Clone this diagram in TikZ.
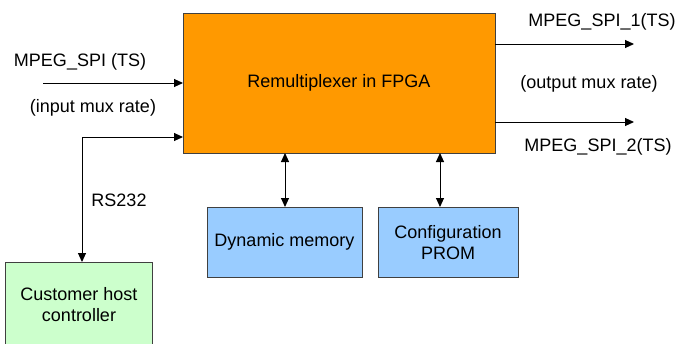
\documentclass[tikz,border=0pt]{standalone}
\usepackage{fontspec}
\setmainfont{Liberation Sans}
\usetikzlibrary{arrows.meta}
\definecolor{fpga}{HTML}{FF9900}
\definecolor{mem}{HTML}{99CCFF}
\definecolor{host}{HTML}{CCFFCC}
\definecolor{edge}{HTML}{404040}
\begin{document}
\begin{tikzpicture}[x=1pt,y=-1pt,
  box/.style={draw=edge,line width=1pt},
  lbl/.style={inner sep=0pt,font=\fontsize{18}{21}\selectfont,align=center},
  conn/.style={line width=1pt,-{Triangle[length=9pt,width=8pt]}},
  dconn/.style={line width=1pt,{Triangle[length=9pt,width=8pt]}-{Triangle[length=9pt,width=8pt]}}]
\useasboundingbox (0,0) rectangle (677,343);
\filldraw[box,fill=fpga] (183,13) rectangle (495,153);
\filldraw[box,fill=mem] (207,207) rectangle (362,277);
\filldraw[box,fill=mem] (378,207) rectangle (518,277);
\filldraw[box,fill=host] (5,262) rectangle (152,350);
\node[lbl] (fpgat) at (339,83) {Remultiplexer in FPGA};
\node[lbl] (memt) at (284.5,242) {Dynamic memory};
\node[lbl] (promt) at (448,243) {Configuration\\PROM};
\node[lbl] (hostt) at (79,305) {Customer host\\controller};
\coordinate (inS) at (43,83);
\coordinate (inE) at (183,83);
\draw[conn] (inS) -- (inE);
\node[lbl] (inA) at (80,62) {MPEG\_SPI (TS)};
\node[lbl] (inB) at (93,108) {(input mux rate)};
\coordinate (rsE) at (183,137);
\coordinate (rsC) at (82,137);
\coordinate (rsB) at (82,262);
\draw[dconn] (rsE) -- (rsC) -- (rsB);
\node[lbl] (rs) at (119,200) {RS232};
\coordinate (m1) at (285,153);
\coordinate (m2) at (285,207);
\draw[dconn] (m1) -- (m2);
\coordinate (p1) at (440,153);
\coordinate (p2) at (440,207);
\draw[dconn] (p1) -- (p2);
\coordinate (o1s) at (495,44);
\coordinate (o1e) at (634,44);
\coordinate (o2s) at (495,122);
\coordinate (o2e) at (634,122);
\draw[conn] (o1s) -- (o1e);
\draw[conn] (o2s) -- (o2e);
\node[lbl] (o1) at (602,22) {MPEG\_SPI\_1(TS)};
\node[lbl] (om) at (589,84) {(output mux rate)};
\node[lbl] (o2) at (598,147) {MPEG\_SPI\_2(TS)};
\end{tikzpicture}
\end{document}
